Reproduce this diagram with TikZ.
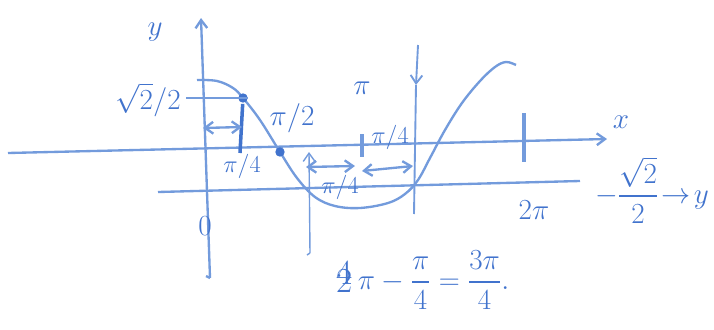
\documentclass[tikz,border=0pt]{standalone}
\usepackage{amsmath,amssymb}
\usepackage{tikz}
\usetikzlibrary{arrows.meta}
\definecolor{ink}{RGB}{115,155,220}
\definecolor{inkdark}{RGB}{65,115,205}

\begin{document}
\begin{tikzpicture}[x=0.03cm,y=-0.03cm,>={Straight Barb[length=7pt,width=10pt]},line width=2pt,draw=ink,text=inkdark,
  lbl/.style={font=\fontsize{30}{34}\selectfont},
  sml/.style={font=\fontsize{20}{24}\selectfont},
  thinline/.style={line width=1.2pt},
  dotmark/.style={circle,fill=inkdark,inner sep=0pt,minimum size=8pt}]
\useasboundingbox (0,0) rectangle (714,329);
% axes
\coordinate (xl) at (8,153);
\coordinate (xr) at (607,139);
\coordinate (yb) at (210,278);
\coordinate (yt) at (201,18);
\coordinate (ml) at (158,192);
\coordinate (mr) at (580,181);
\draw[->] (xl) -- (xr);
\draw[->] (yb) -- (yt);
\draw (yb) -- ++(-4,-2);
\draw (ml) -- (mr);
\node[lbl] (ylab) at (155,32) {$y$};
\node[lbl] (xlab) at (621,122) {$x$};
\node[lbl] (orig) at (205,226) {$0$};
% the curve
\draw plot[smooth,tension=0.6] coordinates {(197,80) (217,81) (233,88) (243,98) (260,120) (280,152) (297,178) (315,197) (335,206) (360,208) (388,203) (405,194) (418,180) (430,158) (445,130) (462,103) (480,81) (495,67) (506,62) (516,65)};
% sqrt2/2 level
\coordinate (hl) at (186,98);
\node[dotmark] (p1) at (243,98) {};
\coordinate (p1b) at (240,153);
\draw (hl) -- ++(62,0);
\draw[line width=3pt,draw=inkdark] (p1) -- (p1b);
\node[lbl] (sq) at (148,100) {$\sqrt{2}/2$};
\node[sml] (q1) at (242,166) {$\pi/4$};
\coordinate (a1) at (203,128);
\coordinate (a2) at (242,127);
\draw[<->] (a1) -- (a2);
\node[dotmark] (p2) at (280,152) {};
\node[lbl] (half) at (292,118) {$\pi/2$};
% pi
\node[lbl] (pilab) at (362,88) {$\pi$};
\coordinate (t1) at (362,134);
\coordinate (t1b) at (362,157);
\draw[line width=3pt] (t1) -- (t1b);
\node[sml] (q2) at (390,137) {$\pi/4$};
% marks below the axis
\coordinate (v1) at (310,253);
\coordinate (v1t) at (309,152);
\draw[thinline,->] (v1) -- (v1t);
\draw[thinline] (v1) -- ++(-3,2);
\coordinate (b1) at (306,167);
\coordinate (b2) at (355,166);
\coordinate (b3) at (362,171);
\coordinate (b4) at (413,166);
\draw[<->] (b1) -- (b2);
\draw[<->] (b3) -- (b4);
\node[sml] (q3) at (340,187) {$\pi/4$};
% vertical at 3pi/4
\coordinate (v2t) at (418,45);
\coordinate (v2m) at (416,85);
\coordinate (v2b) at (414,214);
\draw[->,line width=1.6pt] (v2t) -- (v2m);
\draw[line width=1.6pt] (v2m) -- (v2b);
% 2pi
\coordinate (t2) at (524,113);
\coordinate (t2b) at (524,162);
\draw[line width=3pt] (t2) -- (t2b);
\node[lbl] (twopi) at (534,210) {$2\pi$};
\node[lbl,anchor=east] (mlab) at (714,190) {$-\dfrac{\sqrt{2}}{2}\!\to\! y$};
% bottom
\node[lbl] (calc) at (423,280) {$\rlap{\raisebox{4pt}{4}}\raisebox{-3pt}{2}\,\pi-\dfrac{\pi}{4}=\dfrac{3\pi}{4}.$};
\end{tikzpicture}
\end{document}
